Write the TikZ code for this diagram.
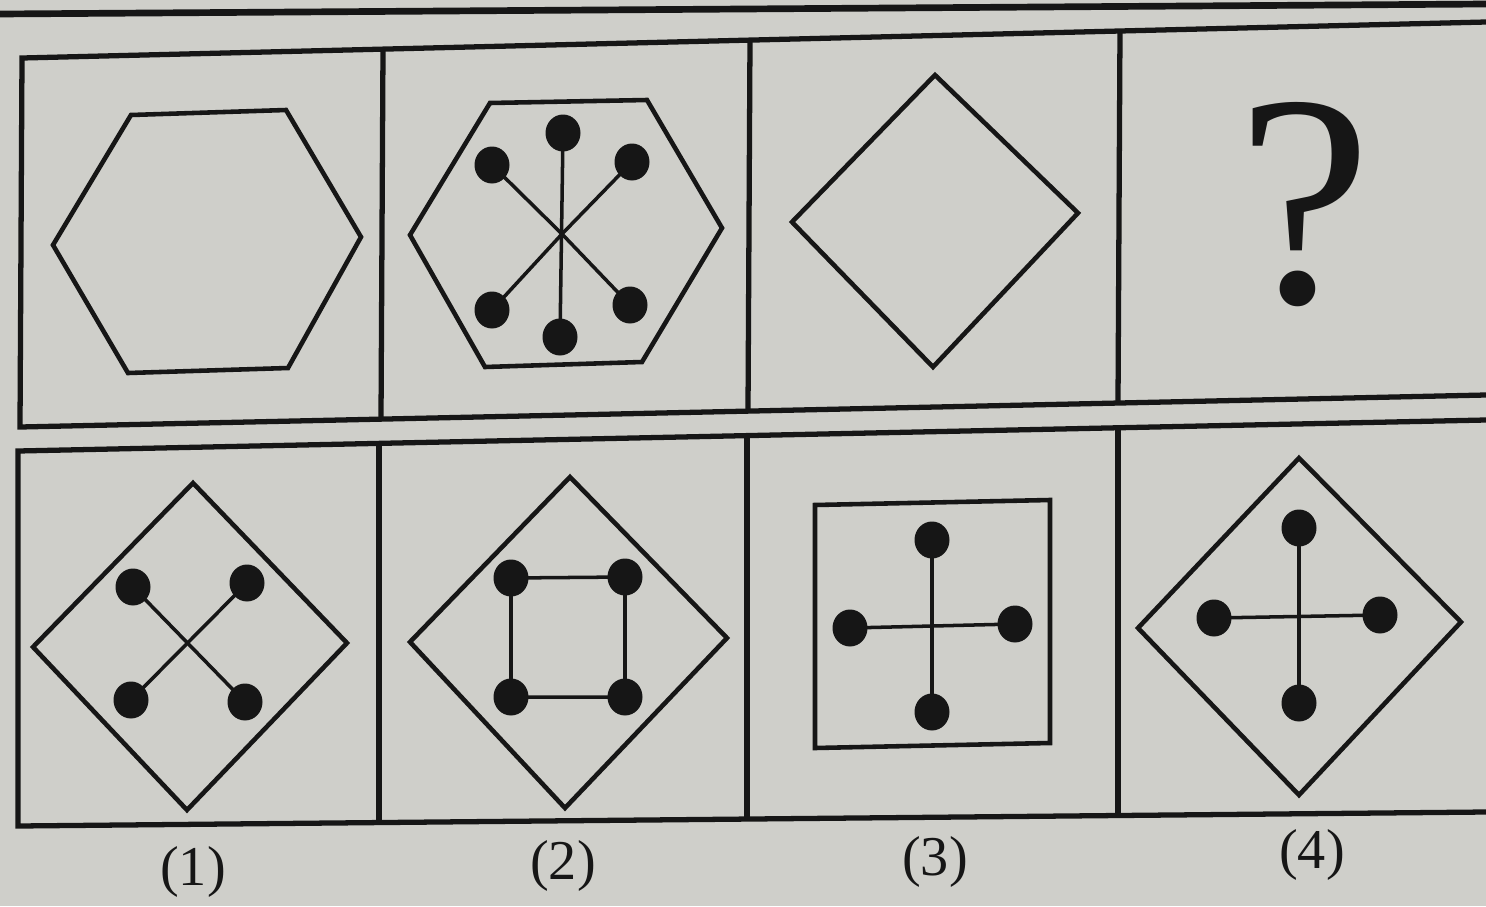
\documentclass[tikz,border=0pt]{standalone}
\usepackage{fontspec}
\setmainfont{Liberation Serif}
\usepackage{tikz}
\usetikzlibrary{shapes.geometric}
\definecolor{paper}{HTML}{CFCFCA}
\definecolor{ink}{HTML}{161616}

\begin{document}
\begin{tikzpicture}[
  frame/.style={draw=ink, line width=1.5pt},
  figline/.style={draw=ink, line width=1.3pt, line join=miter},
  spoke/.style={draw=ink, line width=1pt},
  dot/.style={ellipse, fill=ink, inner sep=0pt, minimum width=0.35cm, minimum height=0.37cm},
  optlabel/.style={text=ink, inner sep=0pt, font=\fontsize{16}{18}\selectfont}
]
  \useasboundingbox (0,0) rectangle (14.86,-9.06);
  \fill[paper] (0,0) rectangle (14.86,-9.06);

  % Top rule
  \draw[frame, line width=1.9pt] (0,-0.14) -- (14.86,-0.04);

  % Question row frame
  \draw[frame] (14.86,-0.22) -- (0.22,-0.58) -- (0.20,-4.27) -- (14.86,-3.95);
  \draw[frame] (3.83,-0.49) -- (3.81,-4.19);
  \draw[frame] (7.50,-0.40) -- (7.48,-4.11);
  \draw[frame] (11.20,-0.31) -- (11.18,-4.03);

  % Q1 hexagon
  \draw[figline] (0.53,-2.45) -- (1.31,-1.15) -- (2.86,-1.10) -- (3.61,-2.37)
    -- (2.88,-3.68) -- (1.28,-3.73) -- cycle;

  % Q2 hexagon with six spokes
  \draw[figline] (4.10,-2.35) -- (4.90,-1.03) -- (6.47,-1.00) -- (7.22,-2.28)
    -- (6.42,-3.62) -- (4.85,-3.67) -- cycle;
  \coordinate (q2c) at (5.62,-2.34);
  \node[dot] (q2n)  at (5.63,-1.33) {};
  \node[dot] (q2nw) at (4.92,-1.65) {};
  \node[dot] (q2ne) at (6.32,-1.62) {};
  \node[dot] (q2sw) at (4.92,-3.10) {};
  \node[dot] (q2se) at (6.30,-3.05) {};
  \node[dot] (q2s)  at (5.60,-3.37) {};
  \draw[spoke] (q2n.center) -- (q2s.center);
  \draw[spoke] (q2nw.center) -- (q2c) -- (q2se.center);
  \draw[spoke] (q2ne.center) -- (q2c) -- (q2sw.center);

  % Q3 diamond
  \draw[figline] (9.35,-0.75) -- (10.78,-2.13) -- (9.33,-3.67) -- (7.92,-2.22) -- cycle;

  % Q4 unknown
  \node[text=ink, inner sep=0pt, font=\fontsize{86}{86}\selectfont] (ask) at (13.05,-2.05) {?};

  % Answer row frame
  \draw[frame] (14.86,-4.20) -- (0.18,-4.51) -- (0.18,-8.26) -- (14.86,-8.12);
  \draw[frame] (3.79,-4.43) -- (3.79,-8.23);
  \draw[frame] (7.47,-4.36) -- (7.47,-8.19);
  \draw[frame] (11.18,-4.28) -- (11.18,-8.15);

  % Option 1
  \draw[figline] (1.93,-4.83) -- (3.47,-6.43) -- (1.87,-8.10) -- (0.33,-6.47) -- cycle;
  \node[dot] (a1nw) at (1.33,-5.87) {};
  \node[dot] (a1ne) at (2.47,-5.83) {};
  \node[dot] (a1sw) at (1.31,-7.00) {};
  \node[dot] (a1se) at (2.45,-7.02) {};
  \draw[spoke] (a1nw.center) -- (a1se.center);
  \draw[spoke] (a1ne.center) -- (a1sw.center);

  % Option 2
  \draw[figline] (5.70,-4.77) -- (7.27,-6.38) -- (5.65,-8.08) -- (4.10,-6.42) -- cycle;
  \node[dot] (a2nw) at (5.11,-5.78) {};
  \node[dot] (a2ne) at (6.25,-5.77) {};
  \node[dot] (a2sw) at (5.11,-6.97) {};
  \node[dot] (a2se) at (6.25,-6.97) {};
  \draw[spoke] (a2nw.center) -- (a2ne.center) -- (a2se.center) -- (a2sw.center) -- cycle;

  % Option 3
  \draw[figline] (8.15,-5.05) -- (10.50,-5.00) -- (10.50,-7.43) -- (8.15,-7.48) -- cycle;
  \node[dot] (a3n) at (9.32,-5.40) {};
  \node[dot] (a3w) at (8.50,-6.28) {};
  \node[dot] (a3e) at (10.15,-6.24) {};
  \node[dot] (a3s) at (9.32,-7.12) {};
  \draw[spoke] (a3n.center) -- (a3s.center);
  \draw[spoke] (a3w.center) -- (a3e.center);

  % Option 4
  \draw[figline] (12.99,-4.58) -- (14.61,-6.22) -- (12.99,-7.95) -- (11.38,-6.28) -- cycle;
  \node[dot] (a4n) at (12.99,-5.28) {};
  \node[dot] (a4w) at (12.14,-6.18) {};
  \node[dot] (a4e) at (13.80,-6.15) {};
  \node[dot] (a4s) at (12.99,-7.03) {};
  \draw[spoke] (a4n.center) -- (a4s.center);
  \draw[spoke] (a4w.center) -- (a4e.center);

  % Option labels
  \node[optlabel] (lab1) at (1.93,-8.72) {(1)};
  \node[optlabel] (lab2) at (5.63,-8.66) {(2)};
  \node[optlabel] (lab3) at (9.35,-8.62) {(3)};
  \node[optlabel] (lab4) at (13.12,-8.55) {(4)};
\end{tikzpicture}
\end{document}
